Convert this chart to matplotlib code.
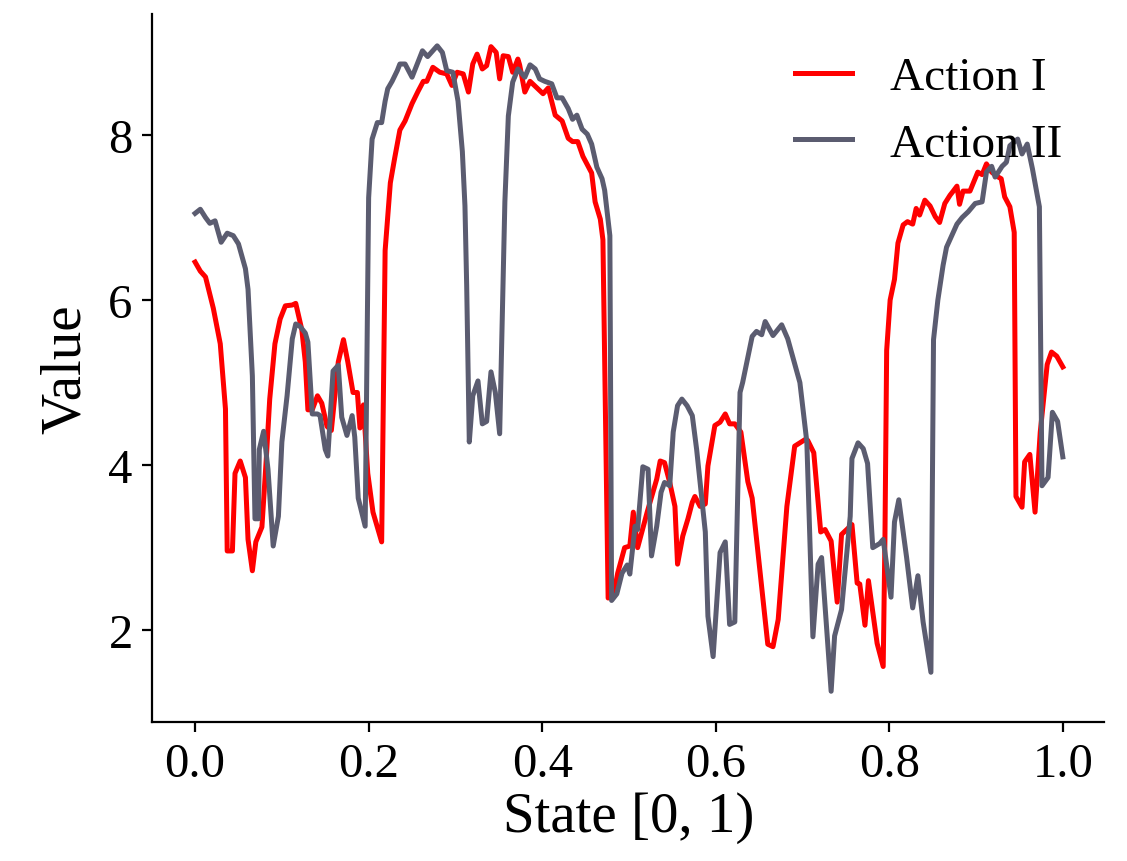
import matplotlib
matplotlib.use("Agg")
import matplotlib.pyplot as plt

# Action I (red) — state / value pairs
state_a1 = [
    0.000, 0.006, 0.012, 0.021, 0.029, 0.035, 0.037, 0.043, 0.046, 0.052,
    0.058, 0.061, 0.066, 0.070, 0.077, 0.082, 0.086, 0.092, 0.098, 0.104,
    0.112, 0.116, 0.123, 0.127, 0.130, 0.135, 0.141, 0.146, 0.152, 0.157,
    0.165, 0.171, 0.176, 0.182, 0.187, 0.190, 0.194, 0.199, 0.205, 0.215,
    0.219, 0.225, 0.230, 0.236, 0.242, 0.250, 0.257, 0.263, 0.267, 0.274,
    0.282, 0.290, 0.296, 0.302, 0.309, 0.315, 0.320, 0.325, 0.331, 0.336,
    0.341, 0.347, 0.351, 0.355, 0.361, 0.366, 0.372, 0.374, 0.380, 0.386,
    0.394, 0.401, 0.407, 0.415, 0.423, 0.430, 0.435, 0.441, 0.447, 0.457,
    0.461, 0.467, 0.470, 0.476, 0.482, 0.487, 0.495, 0.501, 0.505, 0.510,
    0.521, 0.532, 0.536, 0.541, 0.547, 0.553, 0.556, 0.562, 0.568, 0.573,
    0.576, 0.582, 0.588, 0.591, 0.599, 0.605, 0.611, 0.616, 0.622, 0.629,
    0.637, 0.642, 0.660, 0.666, 0.672, 0.682, 0.691, 0.703, 0.706, 0.713,
    0.721, 0.726, 0.733, 0.740, 0.745, 0.755, 0.757, 0.763, 0.766, 0.772,
    0.776, 0.786, 0.793, 0.795, 0.797, 0.801, 0.806, 0.810, 0.816, 0.821,
    0.827, 0.831, 0.835, 0.841, 0.847, 0.853, 0.858, 0.864, 0.870, 0.873,
    0.878, 0.881, 0.885, 0.893, 0.902, 0.907, 0.912, 0.918, 0.924, 0.929,
    0.933, 0.939, 0.944, 0.946, 0.953, 0.956, 0.962, 0.968, 0.974, 0.982,
    0.987, 0.993, 1.000,
]
value_a1 = [
    6.46, 6.35, 6.28, 5.90, 5.47, 4.68, 2.96, 2.96, 3.90, 4.05,
    3.85, 3.10, 2.72, 3.07, 3.25, 4.07, 4.80, 5.47, 5.77, 5.93,
    5.94, 5.96, 5.64, 5.25, 4.67, 4.67, 4.84, 4.75, 4.47, 4.42,
    5.25, 5.52, 5.25, 4.88, 4.88, 4.45, 4.73, 3.90, 3.43, 3.07,
    6.60, 7.42, 7.72, 8.06, 8.17, 8.38, 8.53, 8.65, 8.65, 8.82,
    8.76, 8.74, 8.60, 8.76, 8.74, 8.52, 8.86, 8.98, 8.80, 8.84,
    9.07, 9.00, 8.68, 8.96, 8.95, 8.76, 8.92, 8.85, 8.52, 8.65,
    8.57, 8.50, 8.57, 8.24, 8.17, 7.96, 7.92, 7.92, 7.74, 7.54,
    7.19, 6.98, 6.73, 2.39, 2.41, 2.69, 3.00, 3.02, 3.43, 3.00,
    3.43, 3.83, 4.05, 4.03, 3.79, 3.50, 2.80, 3.14, 3.35, 3.55,
    3.62, 3.50, 3.53, 3.99, 4.48, 4.52, 4.62, 4.50, 4.50, 4.40,
    3.80, 3.60, 1.83, 1.80, 2.13, 3.50, 4.23, 4.31, 4.30, 4.15,
    3.19, 3.22, 3.08, 2.34, 3.16, 3.26, 3.28, 2.57, 2.56, 2.06,
    2.60, 1.84, 1.56, 3.10, 5.39, 6.00, 6.25, 6.69, 6.91, 6.95,
    6.92, 7.11, 7.03, 7.21, 7.14, 7.01, 6.94, 7.17, 7.27, 7.31,
    7.38, 7.16, 7.32, 7.32, 7.55, 7.52, 7.65, 7.55, 7.50, 7.47,
    7.25, 7.13, 6.82, 3.62, 3.49, 4.04, 4.13, 3.43, 4.40, 5.22,
    5.37, 5.32, 5.19,
]

# Action II (grey)
state_a2 = [
    0.000, 0.006, 0.012, 0.017, 0.023, 0.030, 0.037, 0.044, 0.050, 0.058,
    0.061, 0.066, 0.069, 0.073, 0.074, 0.079, 0.084, 0.090, 0.096, 0.100,
    0.106, 0.112, 0.116, 0.121, 0.127, 0.130, 0.135, 0.141, 0.144, 0.150,
    0.153, 0.159, 0.165, 0.169, 0.175, 0.181, 0.184, 0.188, 0.196, 0.200,
    0.204, 0.210, 0.215, 0.219, 0.222, 0.227, 0.233, 0.236, 0.242, 0.250,
    0.262, 0.268, 0.279, 0.285, 0.290, 0.297, 0.303, 0.308, 0.311, 0.313,
    0.316, 0.320, 0.326, 0.331, 0.336, 0.341, 0.346, 0.351, 0.357, 0.361,
    0.366, 0.372, 0.380, 0.386, 0.392, 0.397, 0.403, 0.411, 0.417, 0.423,
    0.430, 0.435, 0.440, 0.446, 0.452, 0.457, 0.463, 0.469, 0.472, 0.478,
    0.480, 0.486, 0.492, 0.498, 0.501, 0.507, 0.510, 0.516, 0.522, 0.526,
    0.532, 0.537, 0.541, 0.547, 0.551, 0.556, 0.561, 0.567, 0.573, 0.578,
    0.588, 0.591, 0.597, 0.605, 0.611, 0.616, 0.622, 0.628, 0.631, 0.642,
    0.647, 0.653, 0.657, 0.666, 0.676, 0.683, 0.697, 0.705, 0.712, 0.718,
    0.722, 0.733, 0.737, 0.745, 0.755, 0.757, 0.764, 0.770, 0.775, 0.781,
    0.789, 0.793, 0.802, 0.806, 0.811, 0.820, 0.827, 0.833, 0.839, 0.848,
    0.851, 0.856, 0.862, 0.866, 0.872, 0.878, 0.884, 0.891, 0.899, 0.907,
    0.912, 0.918, 0.922, 0.930, 0.935, 0.939, 0.948, 0.953, 0.959, 0.965,
    0.973, 0.976, 0.983, 0.988, 0.994, 1.000,
]
value_a2 = [
    7.05, 7.10, 7.00, 6.93, 6.96, 6.70, 6.81, 6.78, 6.68, 6.38,
    6.13, 5.08, 3.35, 3.35, 4.19, 4.41, 3.95, 3.02, 3.38, 4.28,
    4.84, 5.53, 5.71, 5.68, 5.60, 5.49, 4.62, 4.62, 4.60, 4.19,
    4.11, 5.14, 5.21, 4.58, 4.36, 4.60, 4.34, 3.60, 3.26, 7.24,
    7.95, 8.15, 8.15, 8.41, 8.56, 8.65, 8.78, 8.86, 8.86, 8.70,
    9.02, 8.95, 9.08, 9.00, 8.78, 8.76, 8.41, 7.80, 7.14, 6.17,
    4.28, 4.84, 5.02, 4.50, 4.53, 5.13, 4.88, 4.38, 7.19, 8.23,
    8.64, 8.80, 8.70, 8.85, 8.80, 8.68, 8.65, 8.62, 8.45, 8.45,
    8.32, 8.19, 8.24, 8.07, 8.01, 7.89, 7.61, 7.47, 7.33, 6.78,
    2.36, 2.44, 2.69, 2.79, 2.68, 3.26, 3.22, 3.98, 3.95, 2.90,
    3.26, 3.67, 3.79, 3.75, 4.40, 4.72, 4.80, 4.72, 4.60, 4.19,
    3.19, 2.17, 1.68, 2.94, 3.07, 2.07, 2.10, 4.88, 5.00, 5.56,
    5.62, 5.58, 5.74, 5.57, 5.70, 5.53, 5.00, 4.28, 1.92, 2.80,
    2.88, 1.26, 1.93, 2.25, 3.38, 4.08, 4.27, 4.20, 4.02, 3.00,
    3.05, 3.10, 2.40, 3.31, 3.58, 2.88, 2.27, 2.66, 2.10, 1.49,
    5.52, 6.00, 6.42, 6.64, 6.78, 6.92, 7.00, 7.07, 7.17, 7.19,
    7.55, 7.62, 7.49, 7.62, 7.67, 7.87, 7.95, 7.77, 7.89, 7.59,
    7.13, 3.75, 3.85, 4.64, 4.53, 4.10,
]

plt.rcParams["font.family"] = ["Liberation Serif", "DejaVu Serif"]

fig = plt.figure(figsize=(5.635, 4.31), dpi=200)
ax = fig.add_axes([0.135, 0.161, 0.845, 0.822])

ax.plot(state_a1, value_a1, color="#ff0000", lw=1.8, label="Action I")
ax.plot(state_a2, value_a2, color="#5b5c70", lw=1.8, label="Action II")

ax.set_xlim(-0.0495, 1.048)
ax.set_ylim(0.885, 9.47)
ax.set_xticks([0.0, 0.2, 0.4, 0.6, 0.8, 1.0])
ax.set_yticks([2, 4, 6, 8])

for side in ("top", "right"):
    ax.spines[side].set_visible(False)

ax.tick_params(labelsize=17.5, direction="out")
ax.set_xlabel("State [0, 1)", fontsize=20.5, labelpad=2)
ax.set_ylabel("Value", fontsize=20.5, labelpad=6)

ax.legend(loc="upper right", frameon=False, fontsize=17, handlelength=1.2)

fig.savefig("out.png", dpi=200)
plt.close(fig)
